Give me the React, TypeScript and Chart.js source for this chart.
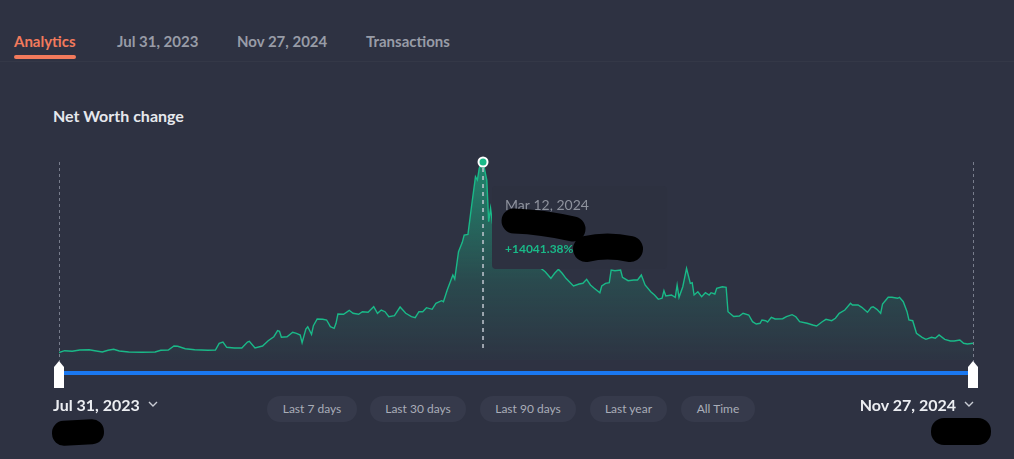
import React, { useEffect, useRef } from "react";
import { Chart, registerables } from "chart.js";

Chart.register(...registerables);

const tabs = ["Analytics", "Jul 31, 2023", "Nov 27, 2024", "Transactions"];
const chartTitle = "Net Worth change";
const startDateLabel = "Jul 31, 2023";
const endDateLabel = "Nov 27, 2024";
const rangeButtons = ["Last 7 days", "Last 30 days", "Last 90 days", "Last year", "All Time"];
const hoverDateLabel = "Mar 12, 2024";
const hoverDay = 225;
const totalDays = 485;

// days since Jul 31, 2023
const dayOffsets = [
  0, 3, 7, 11, 16, 19, 23, 26, 29, 32,
  37, 44, 51, 54, 58, 61, 63, 67, 72, 79,
  83, 85, 87, 89, 93, 97, 100, 101, 104, 108,
  111, 114, 116, 117, 118, 121, 124, 126, 128, 129,
  131, 132, 134, 135, 137, 140, 142, 144, 146, 147,
  148, 151, 154, 156, 159, 161, 164, 167, 169, 171,
  173, 175, 178, 181, 184, 187, 189, 191, 193, 195,
  198, 200, 203, 204, 206, 207, 209, 210, 212, 214,
  215, 217, 219, 221, 222, 223, 224, 225, 227, 228,
  229, 230, 232, 236, 240, 244, 248, 252, 255, 258,
  261, 263, 265, 267, 269, 273, 276, 278, 280, 282,
  284, 287, 288, 290, 292, 293, 295, 298, 299, 302,
  305, 307, 309, 311, 314, 316, 318, 320, 321, 322,
  325, 327, 328, 329, 331, 333, 335, 336, 337, 339,
  341, 343, 345, 346, 348, 349, 352, 354, 355, 358,
  361, 363, 366, 368, 370, 372, 373, 375, 376, 378,
  380, 384, 386, 389, 391, 393, 397, 400, 402, 405,
  407, 410, 412, 414, 417, 420, 421, 424, 426, 429,
  431, 432, 434, 436, 437, 440, 442, 445, 446, 448,
  450, 451, 453, 455, 458, 460, 463, 465, 467, 470,
  473, 475, 478, 480, 482, 485,
];

// net worth change, %
const changePct = [
  0, 133, 88, 184, 206, 133, 37, 162, 236, 111,
  37, 15, 37, 162, 184, 479, 457, 280, 206, 162,
  184, 678, 774, 383, 332, 332, 774, 825, 332, 479,
  870, 1164, 1607, 1562, 1120, 1164, 1489, 1415, 1290, 722,
  1732, 1901, 1341, 1975, 2469, 2447, 2395, 1901, 1784, 2152,
  2837, 2815, 3110, 2889, 2815, 3007, 2963, 3375, 2889, 3132,
  3007, 2638, 2712, 3353, 2889, 2638, 2565, 3007, 3007, 3302,
  3184, 3626, 3818, 3744, 4606, 4975, 5712, 5417, 7429, 8122,
  8660, 8711, 10871, 12956, 12713, 13576, 13892, 14041.38, 12713, 9640,
  10628, 9522, 8881, 8291, 7849, 7554, 7186, 6817, 6279, 5955,
  5469, 5837, 6132, 5837, 5469, 4901, 5048, 5100, 5395, 4975,
  4732, 4407, 4901, 5100, 5144, 6080, 6029, 6080, 5542, 5292,
  5343, 5343, 5712, 4975, 4481, 4238, 3921, 3995, 4555, 4164,
  4238, 4068, 4975, 4068, 4849, 6206, 5100, 5144, 4238, 4481,
  4112, 4407, 4238, 4407, 4311, 4732, 4849, 4805, 3007, 2653,
  2690, 2889, 2764, 2270, 2100, 2152, 2395, 2344, 2248, 2594,
  2469, 2491, 2638, 2786, 2638, 2270, 2152, 2027, 1953, 2270,
  2447, 2344, 2521, 2889, 3132, 3626, 3501, 3501, 3331, 2963,
  3331, 3375, 3184, 2889, 3574, 4068, 4068, 3995, 4068, 3744,
  3007, 2395, 2344, 1415, 1120, 973, 1120, 1047, 1290, 973,
  848, 848, 921, 678, 626, 678,
];

const BG = "#2e3242";
const GREEN = "#1ab988";
const FONT = "Lato, 'Noto Sans', sans-serif";

const overlayPlugin = {
  id: "overlay",
  afterDatasetsDraw(chart: any) {
    const { ctx, chartArea, scales } = chart;
    const xs = scales.x;
    const ys = scales.y;
    ctx.save();
    // range edge dashed lines
    ctx.setLineDash([3, 3]);
    ctx.lineWidth = 1;
    ctx.strokeStyle = "rgba(160,166,180,0.65)";
    [0, totalDays].forEach((d) => {
      const px = Math.round(xs.getPixelForValue(d)) + 0.5;
      ctx.beginPath();
      ctx.moveTo(px, chartArea.top);
      ctx.lineTo(px, chartArea.bottom + 6);
      ctx.stroke();
    });
    // hover line
    const idx = dayOffsets.indexOf(hoverDay);
    const val = changePct[idx];
    const hx = xs.getPixelForValue(hoverDay);
    const hy = ys.getPixelForValue(val);
    ctx.setLineDash([4, 4]);
    ctx.lineWidth = 2;
    ctx.strokeStyle = "rgba(195,200,210,0.75)";
    ctx.beginPath();
    ctx.moveTo(hx, hy + 6);
    ctx.lineTo(hx, ys.getPixelForValue(0) - 2);
    ctx.stroke();
    ctx.setLineDash([]);
    // hover point
    ctx.beginPath();
    ctx.arc(hx, hy, 4.5, 0, Math.PI * 2);
    ctx.fillStyle = GREEN;
    ctx.fill();
    ctx.lineWidth = 2;
    ctx.strokeStyle = "#ffffff";
    ctx.stroke();
    // tooltip box
    const bx = hx + 9;
    const by = hy + 24;
    const bw = 175;
    const bh = 83;
    ctx.fillStyle = "rgb(45,49,64)";
    ctx.beginPath();
    (ctx as any).roundRect(bx, by, bw, bh, 4);
    ctx.fill();
    ctx.textBaseline = "middle";
    ctx.textAlign = "left";
    ctx.fillStyle = "#8e929d";
    ctx.font = `14px ${FONT}`;
    ctx.fillText(hoverDateLabel, bx + 13, by + 19);
    ctx.fillStyle = GREEN;
    ctx.font = `bold 12px ${FONT}`;
    ctx.fillText(`+${val.toFixed(2)}%`, bx + 13, by + 63);
    // redaction marks
    ctx.strokeStyle = "#000";
    ctx.lineCap = "round";
    ctx.lineWidth = 25;
    ctx.beginPath();
    ctx.moveTo(bx + 22, by + 35);
    ctx.quadraticCurveTo(bx + 50, by + 36, bx + 81, by + 43);
    ctx.stroke();
    ctx.lineWidth = 26;
    ctx.beginPath();
    ctx.moveTo(bx + 94, by + 63);
    ctx.quadraticCurveTo(bx + 115, by + 58, bx + 138, by + 63);
    ctx.stroke();
    ctx.restore();
  },
};

function Chevron() {
  return (
    <svg width="10" height="6" viewBox="0 0 10 6" style={{ marginLeft: 8, marginBottom: 2 }}>
      <polyline points="1,1 5,5 9,1" fill="none" stroke="#c9ccd4" strokeWidth="1.4" />
    </svg>
  );
}

function Handle({ left }: { left: number }) {
  return (
    <svg
      width="10"
      height="27"
      viewBox="0 0 10 27"
      style={{ position: "absolute", left, top: 361 }}
    >
      <polygon points="5,0 10,6 10,27 0,27 0,6" fill="#ffffff" />
    </svg>
  );
}

export default function App() {
  const canvasRef = useRef<HTMLCanvasElement | null>(null);

  useEffect(() => {
    document.body.style.margin = "0";
    document.body.style.background = BG;
    const canvas = canvasRef.current;
    if (!canvas) return;
    const chart = new Chart(canvas, {
      type: "line",
      data: {
        datasets: [
          {
            data: dayOffsets.map((d, i) => ({ x: d, y: changePct[i] })),
            borderColor: GREEN,
            borderWidth: 1.4,
            pointRadius: 0,
            tension: 0,
            fill: "start",
            backgroundColor: (c: any) => {
              const a = c.chart.chartArea;
              if (!a) return "transparent";
              const g = c.chart.ctx.createLinearGradient(0, a.top, 0, a.bottom);
              g.addColorStop(0, "rgba(26,185,136,0.62)");
              g.addColorStop(0.6, "rgba(26,185,136,0.18)");
              g.addColorStop(1, "rgba(26,185,136,0.02)");
              return g;
            },
          },
        ],
      },
      options: {
        animation: false,
        responsive: false,
        events: [],
        layout: { padding: { left: 19, right: 27, top: 22, bottom: 20 } },
        plugins: { legend: { display: false }, tooltip: { enabled: false } },
        scales: {
          x: { type: "linear", min: 0, max: totalDays, display: false },
          y: { min: -553, max: 14041.38, display: false },
        },
      } as any,
      plugins: [overlayPlugin],
    });
    const fonts = (document as any).fonts;
    if (fonts && fonts.load) {
      Promise.all([fonts.load(`14px Lato`), fonts.load(`bold 12px Lato`)]).then(
        () => chart.draw(),
        () => {}
      );
    }
    return () => {
      chart.destroy();
    };
  }, []);

  const tabLefts = [14, 117, 237, 366];
  const buttonLefts = [267, 370, 480, 590, 681];
  const buttonWidths = [90, 96, 96, 77, 74];

  return (
    <div
      style={{
        position: "fixed",
        left: 0,
        top: 0,
        width: 1014,
        height: 459,
        background: BG,
        fontFamily: FONT,
        overflow: "hidden",
      }}
    >
      {tabs.map((t, i) => (
        <div
          key={t}
          style={{
            position: "absolute",
            left: tabLefts[i],
            top: 31,
            lineHeight: "20px",
            fontSize: 15,
            fontWeight: 700,
            color: i === 0 ? "#f27a5c" : "#989ca7",
            whiteSpace: "nowrap",
          }}
        >
          {t}
        </div>
      ))}
      <div
        style={{
          position: "absolute",
          left: 14,
          top: 55,
          width: 62,
          height: 4,
          borderRadius: 2,
          background: "#f27a5c",
        }}
      />
      <div
        style={{
          position: "absolute",
          left: 0,
          top: 61,
          width: 1014,
          height: 1,
          background: "rgba(255,255,255,0.03)",
        }}
      />
      <div
        style={{
          position: "absolute",
          left: 53,
          top: 106,
          lineHeight: "20px",
          fontSize: 16,
          fontWeight: 700,
          color: "#e6e8ed",
        }}
      >
        {chartTitle}
      </div>
      <canvas
        ref={canvasRef}
        width={960}
        height={240}
        style={{ position: "absolute", left: 40, top: 140, width: 960, height: 240 }}
      />
      <div
        style={{
          position: "absolute",
          left: 60,
          top: 371,
          width: 912,
          height: 4,
          background: "#1a78f0",
        }}
      />
      <Handle left={54} />
      <Handle left={968} />
      <div
        style={{
          position: "absolute",
          left: 53,
          top: 395,
          lineHeight: "20px",
          fontSize: 16,
          fontWeight: 700,
          color: "#eceef2",
          display: "flex",
          alignItems: "center",
          whiteSpace: "nowrap",
        }}
      >
        {startDateLabel}
        <Chevron />
      </div>
      <div
        style={{
          position: "absolute",
          right: 40,
          top: 395,
          lineHeight: "20px",
          fontSize: 16,
          fontWeight: 700,
          color: "#eceef2",
          display: "flex",
          alignItems: "center",
          whiteSpace: "nowrap",
        }}
      >
        {endDateLabel}
        <Chevron />
      </div>
      {rangeButtons.map((b, i) => (
        <div
          key={b}
          style={{
            position: "absolute",
            left: buttonLefts[i],
            top: 396,
            width: buttonWidths[i],
            height: 26,
            lineHeight: "26px",
            textAlign: "center",
            borderRadius: 13,
            background: "#363a4b",
            color: "#a9adb8",
            fontSize: 12,
            whiteSpace: "nowrap",
          }}
        >
          {b}
        </div>
      ))}
      <div
        style={{
          position: "absolute",
          left: 52,
          top: 420,
          width: 52,
          height: 25,
          borderRadius: 12,
          background: "#000",
          transform: "rotate(-3deg)",
        }}
      />
      <div
        style={{
          position: "absolute",
          left: 931,
          top: 418,
          width: 60,
          height: 27,
          borderRadius: 13,
          background: "#000",
        }}
      />
    </div>
  );
}
